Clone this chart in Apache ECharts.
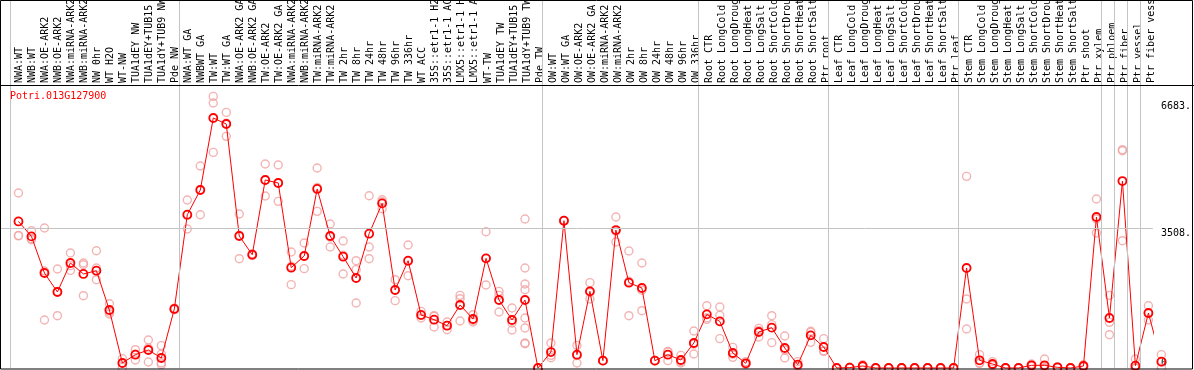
<!DOCTYPE html>
<html><head><meta charset="utf-8">
<script src="https://cdn.jsdelivr.net/npm/echarts@6/dist/echarts.min.js"></script>
<style>html,body{margin:0;padding:0;background:#fff;overflow:hidden}#c{width:1194px;height:370px}</style>
</head><body><div id="c"></div>
<script>
const geneTitle = 'Potri.013G127900';

const categories = [
  'NWA:WT','NWB:WT','NWA:OE-ARK2','NWB:OE-ARK2','NWA:miRNA-ARK2','NWB:miRNA-ARK2','NW 0hr','WT H2O','WT-NW',
  'TUA1dEY NW','TUA1dEY+TUB15 NW','TUA1dY+TUB9 NW','Pde NW',
  'NWA:WT GA','NWBWT GA','TW:WT','TW:WT GA','NWA:OE-ARK2 GA','NWB:OE-ARK2 GA','TW:OE-ARK2','TW:OE-ARK2 GA',
  'NWA:miRNA-ARK2 GA','NWB:miRNA-ARK2 GA','TW:miRNA-ARK2','TW:miRNA-ARK2 GA',
  'TW 2hr','TW 8hr','TW 24hr','TW 48hr','TW 96hr','TW 336hr','WT ACC',
  '35S::etr1-1 H2O','35S::etr1-1 ACC','LMX5::etr1-1 H2O','LMX5::etr1-1 ACC',
  'WT-TW','TUA1dEY TW','TUA1dEY+TUB15 TW','TUA1dY+TUB9 TW','Pde TW',
  'OW:WT','OW:WT GA','OW:OE-ARK2','OW:OE-ARK2 GA','OW:miRNA-ARK2','OW:miRNA-ARK2 GA',
  'OW 2hr','OW 8hr','OW 24hr','OW 48hr','OW 96hr','OW 336hr',
  'Root CTR','Root LongCold','Root LongDrought','Root LongHeat','Root LongSalt',
  'Root ShortCold','Root ShortDrought','Root ShortHeat','Root ShortSalt','Ptr root',
  'Leaf CTR','Leaf LongCold','Leaf LongDrought','Leaf LongHeat','Leaf LongSalt',
  'Leaf ShortCold','Leaf ShortDrought','Leaf ShortHeat','Leaf ShortSalt','Ptr leaf',
  'Stem CTR','Stem LongCold','Stem LongDrought','Stem LongHeat','Stem LongSalt',
  'Stem ShortCold','Stem ShortDrought','Stem ShortHeat','Stem ShortSalt','Ptr shoot','Ptr xylem',
  'Ptr phloem','Ptr fiber','Ptr vessel','Ptr fiber vessel'
];

const means = [
  3673,3298,2380,1904,2631,2356,2438,1453,125,334,451,251,1479,
  3841,4460,6264,6114,3307,2839,4711,4636,2514,2806,4486,3307,2789,2255,3365,4125,1954,2689,1329,1211,1060,1579,1228,2747,1704,1203,1704,0,
  400,3691,334,1920,184,3457,2138,2005,184,334,200,626,
  1344,1169,376,117,902,1011,501,84,818,526,0,
  10,50,0,0,0,0,0,0,0,2506,
  192,100,0,0,67,67,17,0,50,3784,1253,
  4685,58,1378,159
];

const replicates = [
  [4385,3323,3310],[3440,3240,3215],[3507,1202,2431],[2481,1311,1920],[2882,2446,2565],[2631,2589,1812],
  [2939,2506,2213],[1611,1353,1400],[234,15,125],[459,200,343],[702,150,500],[560,351,125,84],[1500,1460,1479],
  [4210,3483,3830],[5062,3841,4477],[6805,6639,5402],[6405,5804,6133],[3858,2739,3324],[2860,2820,2837],
  [5112,4310,4711],[5087,4176,4645],[2906,2088,2548],[3132,2489,2797],[5011,3925,4522],[3608,3032,3281],
  [3182,2356,2829],[2689,2464,1629],[4317,3032,2739],[4217,3992,4166],[2213,1687,1962],[3082,2313,2672],
  [1419,1253,1315],[1311,1027,1295],[1153,960,1067],[1820,1737,1178],[1336,1153,1195],[3415,2080,2746],
  [1920,1820,1403],[1503,1128,952],[3733,2506,2105,1962,1253,1002,626,609],[0,0,0],
  [626,317,257],[3691,3700,3680],[568,125,309],[2138,1729,1893],[184,190,178],[3784,3157,3430],
  [2931,1311,2172],[2631,1436,1948],[190,180,182],[417,184,401],[317,125,158],[927,351,600],
  [1561,1253,1218],[1528,1319,735],[517,267,344],[159,100,92],[994,777,935],[1311,1086,635],
  [802,251,450],[159,50,43],[919,643,892],[735,417,426],[0,0,0],
  [20,5,5],[80,40,30],[0,0,0],[0,0,0],[0,0,0],[0,0,0],[0,0,0],[0,0,0],[0,0,0],[4802,1729,977],
  [334,125,117],[159,80,61],[0,0,0],[0,0,0],[100,60,41],[226,0,0],[30,10,11],[0,0,0],[80,40,30],
  [4235,3383,3734],[1820,1144,835],
  [5470,5445,3190],[226,0,0],[1561,1203,1370],[334,0,143]
];

const groupBoundaries = [0,13,41,53,63,73,84,85,86,87,88];
const yUpperTicks = [3508, 6683];
const yZeroTick = [0];
const gridLineValue = 3508;

const FONT = 'DejaVu Sans Mono';
const xMin = -1.422, xMax = 87.346;
const yMax = 9221;

const chart = echarts.init(document.getElementById('c'), null, {renderer:'canvas'});

const repData = [];
replicates.forEach((reps, i) => reps.forEach(v => repData.push([i, v])));

chart.setOption({
  animation: false,
  backgroundColor: '#ffffff',
  title: {
    text: geneTitle, left: 10, top: 91, padding: 0,
    textStyle: {color: '#ff0000', fontSize: 10, fontWeight: 'normal', fontFamily: FONT}
  },
  grid: [
    {left: 0, right: 39, top: 0, bottom: 2},
    {left: 13, right: 36, top: 0, height: 85}
  ],
  xAxis: [
    {gridIndex: 0, type: 'value', min: xMin, max: xMax, show: false},
    {gridIndex: 1, type: 'category', data: categories, boundaryGap: true, position: 'bottom',
     axisLine: {show: false}, axisTick: {show: false}, splitLine: {show: false},
     axisLabel: {inside: true, rotate: 90, interval: 0, margin: 2, fontSize: 10, fontFamily: FONT, color: '#000'}}
  ],
  yAxis: [
    {gridIndex: 0, type: 'value', min: 0, max: yMax, position: 'right',
     axisLine: {show: false}, axisTick: {show: false}, splitLine: {show: false},
     axisLabel: {customValues: yUpperTicks, formatter: v => v + '.', verticalAlign: 'top', margin: 8,
                 fontSize: 10, fontFamily: FONT, color: '#000'}},
    {gridIndex: 0, type: 'value', min: 0, max: yMax, position: 'right',
     axisLine: {show: false}, axisTick: {show: false}, splitLine: {show: false},
     axisLabel: {customValues: yZeroTick, formatter: v => String(v), verticalAlign: 'bottom', margin: 8,
                 fontSize: 10, fontFamily: FONT, color: '#000'}},
    {gridIndex: 1, type: 'value', show: false}
  ],
  series: [
    {
      type: 'scatter', xAxisIndex: 0, yAxisIndex: 0, data: repData,
      symbol: 'circle', symbolSize: 8, silent: true, clip: false, z: 2,
      itemStyle: {color: 'rgba(0,0,0,0)', borderColor: '#f0a0a0', borderWidth: 1.4},
      markLine: {
        silent: true, symbol: 'none', label: {show: false}, animation: false,
        lineStyle: {color: '#c4c4c4', width: 1, type: 'solid'},
        data: groupBoundaries.map(k => ({xAxis: k - 0.654})).concat([{yAxis: gridLineValue}])
      }
    },
    {
      type: 'line', xAxisIndex: 0, yAxisIndex: 0, data: means.map((v, i) => [i, v]),
      symbol: 'circle', symbolSize: 8, showSymbol: true, silent: true, clip: false, z: 3,
      lineStyle: {color: '#ff0000', width: 1},
      itemStyle: {color: 'rgba(0,0,0,0)', borderColor: '#ff0000', borderWidth: 1.8}
    }
  ],
  graphic: [
    {type: 'rect', z: 100, silent: true, shape: {x: 0.5, y: 0.5, width: 1192, height: 368.5},
     style: {fill: null, stroke: '#000', lineWidth: 1}},
    {type: 'line', z: 100, silent: true, shape: {x1: 0, y1: 85.5, x2: 1194, y2: 85.5},
     style: {stroke: '#000', lineWidth: 1}}
  ]
});
</script>
</body></html>
